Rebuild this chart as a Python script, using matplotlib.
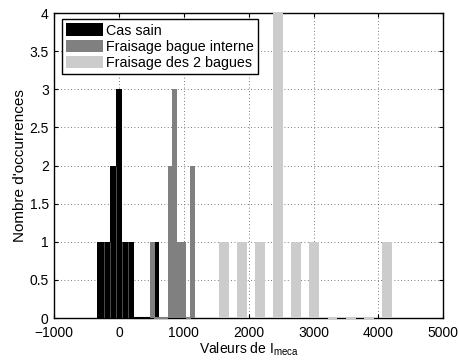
import numpy as np
import matplotlib
matplotlib.use("Agg")
import matplotlib.pyplot as plt

plt.rcParams['font.family'] = ['Liberation Sans', 'DejaVu Sans']
plt.rcParams['mathtext.fontset'] = 'custom'
plt.rcParams['mathtext.rm'] = 'Liberation Sans'

# Histogram data (bin centres and counts, 10 bins per series)
labels = ["Cas sain", "Fraisage bague interne", "Fraisage des 2 bagues"]
colors = ["#000000", "#808080", "#cccccc"]

sain_centers = [-288, -193, -98, -3, 92, 187, 283, 378, 473, 568]
sain_counts = [1, 1, 2, 3, 1, 1, 0, 0, 0, 1]

interne_centers = [512, 581, 651, 720, 790, 859, 928, 998, 1067, 1137]
interne_counts = [1, 0, 0, 0, 2, 3, 1, 1, 0, 2]

deux_centers = [1618, 1897, 2176, 2455, 2734, 3013, 3292, 3571, 3850, 4129]
deux_counts = [1, 1, 1, 4, 1, 1, 0, 0, 0, 1]

series = [
    (sain_centers, sain_counts, 95),
    (interne_centers, interne_counts, 82),
    (deux_centers, deux_counts, 154),
]

fig = plt.figure(figsize=(4.6, 3.62), dpi=100)
ax = fig.add_axes([0.118, 0.1215, 0.8455, 0.8425])

for (c, n, w), col, lab in zip(series, colors, labels):
    c = np.asarray(c, dtype=float)
    n = np.asarray(n, dtype=float)
    ax.bar(c, n, width=w, color=col, edgecolor='none', label=lab,
           zorder=3, clip_on=False)
    # zero-count bins show up as flat segments on the axis
    z = n == 0
    ax.hlines(np.zeros(z.sum()), c[z] - w / 2, c[z] + w / 2, colors=col,
              linewidth=1.5, zorder=3, clip_on=False)

# thin separators inside the black block, as in the original rendering
sc = np.asarray(sain_centers, dtype=float)
sn = np.asarray(sain_counts, dtype=float)
for i in range(len(sc) - 1):
    if sn[i] > 0 and sn[i + 1] > 0:
        ax.vlines((sc[i] + sc[i + 1]) / 2, 0, min(sn[i], sn[i + 1]),
                  colors='0.35', linewidth=0.6, zorder=3.5)

ax.set_xlim(-1000, 5000)
ax.set_ylim(0, 4)
ax.set_xticks(np.arange(-1000, 5001, 1000))
ax.set_yticks(np.arange(0, 4.01, 0.5))
ax.set_yticklabels(['0', '0.5', '1', '1.5', '2', '2.5', '3', '3.5', '4'])
ax.grid(True, linestyle=(0, (1, 3)), color='0.3', linewidth=0.6)
ax.set_axisbelow(True)
ax.tick_params(direction='in', top=True, right=True, labelsize=10,
               length=3, width=0.8, pad=4)
ax.tick_params(axis='x', pad=6)
for s in ax.spines.values():
    s.set_linewidth(1.0)

ax.set_xlabel('Valeurs de I$\\mathregular{_{meca}}$', fontsize=10, labelpad=0)
ax.set_ylabel("Nombre d'occurrences", fontsize=11, labelpad=2)

leg = ax.legend(loc='upper left', bbox_to_anchor=(0.019, 0.98), fontsize=10.3,
                fancybox=False, edgecolor='black', framealpha=1,
                handlelength=2.6, handleheight=0.95, handletextpad=0.2,
                labelspacing=0.15, borderpad=0.3, borderaxespad=0)
leg.get_frame().set_linewidth(1.0)
leg.set_zorder(5)

fig.savefig("out.png", dpi=100)
